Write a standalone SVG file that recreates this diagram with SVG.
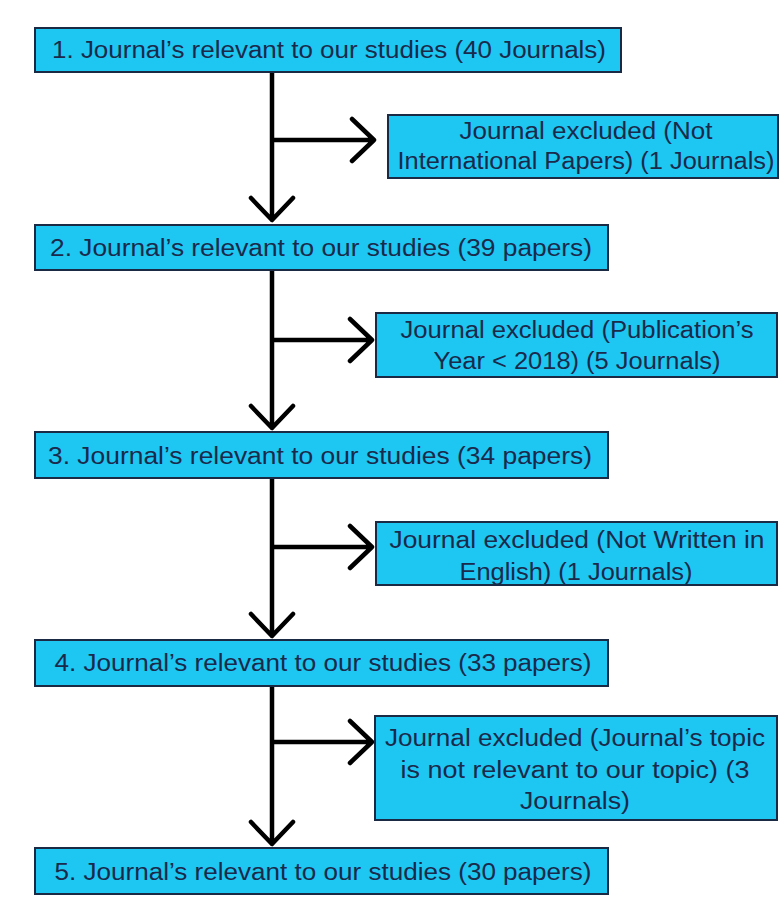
<svg xmlns="http://www.w3.org/2000/svg" width="779" height="915" viewBox="0 0 779 915">
<style>
.box{fill:#1ec6f2;stroke:#1b2a44;stroke-width:2}
.t{font-family:"Liberation Sans",Arial,sans-serif;font-size:23px;fill:#1b2a4a;text-anchor:middle}
.ln{fill:none;stroke:#000;stroke-width:4.5;stroke-linecap:round;stroke-linejoin:round}
</style>
<rect width="779" height="915" fill="#fff"/>
<g id="connectors">
<path class="ln" d="M272 72V220M251 198L272 220L293 198M272 140H374M352 119L374 140L352 161"/>
<path class="ln" d="M272 270V428M251 406L272 428L293 406M272 340H372M350 319L372 340L350 361"/>
<path class="ln" d="M272 478V636M251 614L272 636L293 614M272 547H372M350 526L372 547L350 568"/>
<path class="ln" d="M272 686V844M251 822L272 844L293 822M272 742H372M350 721L372 742L350 763"/>
</g>
<g id="n1"><rect class="box" x="35" y="28" width="586" height="44"/><text class="t" x="329" y="58" textLength="554" lengthAdjust="spacingAndGlyphs">1. Journal’s relevant to our studies (40 Journals)</text></g>
<g id="e1"><rect class="box" x="388" y="115" width="390" height="63"/><text class="t" x="586" y="139" textLength="253" lengthAdjust="spacingAndGlyphs">Journal excluded (Not</text><text class="t" x="586" y="169" textLength="377" lengthAdjust="spacingAndGlyphs">International Papers) (1 Journals)</text></g>
<g id="n2"><rect class="box" x="35" y="225" width="573" height="45"/><text class="t" x="321" y="256" textLength="542" lengthAdjust="spacingAndGlyphs">2. Journal’s relevant to our studies (39 papers)</text></g>
<g id="e2"><rect class="box" x="376" y="313" width="401" height="64"/><text class="t" x="577" y="338" textLength="353" lengthAdjust="spacingAndGlyphs">Journal excluded (Publication’s</text><text class="t" x="577" y="369" textLength="287" lengthAdjust="spacingAndGlyphs">Year &lt; 2018) (5 Journals)</text></g>
<g id="n3"><rect class="box" x="35" y="432" width="573" height="46"/><text class="t" x="320" y="464" textLength="544" lengthAdjust="spacingAndGlyphs">3. Journal’s relevant to our studies (34 papers)</text></g>
<g id="e3"><rect class="box" x="376" y="522" width="401" height="63"/><text class="t" x="577" y="548" textLength="375" lengthAdjust="spacingAndGlyphs">Journal excluded (Not Written in</text><text class="t" x="576" y="580" textLength="233" lengthAdjust="spacingAndGlyphs">English) (1 Journals)</text></g>
<g id="n4"><rect class="box" x="35" y="640" width="573" height="46"/><text class="t" x="323" y="671" textLength="537" lengthAdjust="spacingAndGlyphs">4. Journal’s relevant to our studies (33 papers)</text></g>
<g id="e4"><rect class="box" x="375" y="716" width="402" height="104"/><text class="t" x="575" y="746" textLength="380" lengthAdjust="spacingAndGlyphs">Journal excluded (Journal’s topic</text><text class="t" x="575" y="778" textLength="349" lengthAdjust="spacingAndGlyphs">is not relevant to our topic) (3</text><text class="t" x="575" y="809" textLength="110" lengthAdjust="spacingAndGlyphs">Journals)</text></g>
<g id="n5"><rect class="box" x="35" y="848" width="573" height="46"/><text class="t" x="323" y="880" textLength="537" lengthAdjust="spacingAndGlyphs">5. Journal’s relevant to our studies (30 papers)</text></g>
</svg>
